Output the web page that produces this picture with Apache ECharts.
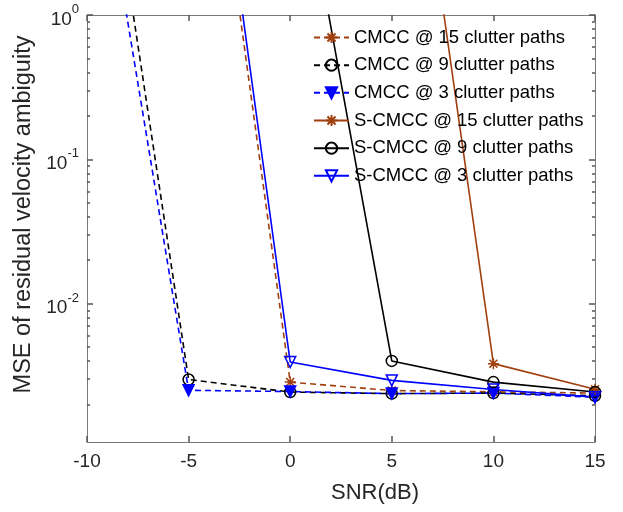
<!DOCTYPE html>
<html>
<head>
<meta charset="utf-8">
<script src="https://cdn.jsdelivr.net/npm/echarts@6/dist/echarts.min.js"></script>
<style>html,body{margin:0;padding:0;background:#fff;}#chart{width:623px;height:512px;}</style>
</head>
<body>
<div id="chart"></div>
<script>
// ---- data ----
const snr = [-10, -5, 0, 5, 10, 15];
const cmcc15  = [800, 400, 0.00286, 0.0025, 0.00245, 0.0024];
const cmcc9   = [131, 0.00298, 0.00244, 0.00238, 0.0024, 0.0023];
const cmcc3   = [46, 0.00251, 0.00246, 0.00238, 0.0024, 0.00225];
const scmcc15 = [5000, 2000, 900, 355, 0.00384, 0.00255];
const scmcc9  = [2000, 500, 29, 0.00401, 0.00286, 0.00244];
const scmcc3  = [3000, 560, 0.00394, 0.00294, 0.00254, 0.00225];
const seriesNames = ['CMCC @ 15 clutter paths', 'CMCC @ 9 clutter paths', 'CMCC @ 3 clutter paths',
                     'S-CMCC @ 15 clutter paths', 'S-CMCC @ 9 clutter paths', 'S-CMCC @ 3 clutter paths'];
const yMajorTicks = [0.01, 0.1, 1];
const yMinorTicks = [0.002,0.003,0.004,0.005,0.006,0.007,0.008,0.009,
                     0.02,0.03,0.04,0.05,0.06,0.07,0.08,0.09,
                     0.2,0.3,0.4,0.5,0.6,0.7,0.8,0.9];
const xLabel = 'SNR(dB)';
const yLabel = 'MSE of residual velocity ambiguity';

// ---- styling ----
const FONT = 'Liberation Sans, Arial, Helvetica, sans-serif';
const BROWN = '#A23F0E', BLACK = '#000000', BLUE = '#0000FF';
const AXIS = '#7a7a7a', TICK = '#555555', TXT = '#262626';
const YMIN = 0.0011, YMAX = 1;
const asterisk = 'path://M0,-5L0,5M-5,0L5,0M-3.6,-3.6L3.6,3.6M-3.6,3.6L3.6,-3.6';
const clear = 'rgba(255,255,255,0)';

function pairs(arr) { return snr.map((x, i) => [x, arr[i]]); }

function mk(name, arr, color, dashed, symbol, filled, rotate) {
  return {
    name: name, type: 'line', data: pairs(arr),
    xAxisIndex: 0, yAxisIndex: 0,
    symbol: symbol, symbolSize: 11, symbolRotate: rotate || 0,
    symbolKeepAspect: true,
    lineStyle: { color: color, width: 1.6, type: dashed ? [6, 4] : 'solid' },
    itemStyle: { color: filled ? color : clear, borderColor: color, borderWidth: 1.5 },
    clip: true, z: 2
  };
}

const series = [
  mk(seriesNames[0], cmcc15, BROWN, true, asterisk, true),
  mk(seriesNames[1], cmcc9, BLACK, true, 'circle', false),
  mk(seriesNames[2], cmcc3, BLUE, true, 'triangle', true, 180),
  mk(seriesNames[3], scmcc15, BROWN, false, asterisk, true),
  mk(seriesNames[4], scmcc9, BLACK, false, 'circle', false),
  mk(seriesNames[5], scmcc3, BLUE, false, 'triangle', false, 180)
];

function yAx(pos, ticks, len, showLine, showLabel) {
  return {
    type: 'log', logBase: 10, min: YMIN, max: YMAX, position: pos,
    axisLine: { show: showLine, onZero: false, lineStyle: { color: AXIS, width: 1 } },
    axisTick: { show: true, inside: true, length: len, customValues: ticks, lineStyle: { color: TICK, width: 1.5 } },
    axisLabel: showLabel ? {
      show: true, customValues: yMajorTicks, margin: 8,
      formatter: function (v) {
        const e = Math.round(Math.log10(v));
        return '{b|10}{s|' + e + '}';
      },
      rich: {
        b: { fontSize: 19, fontFamily: FONT, color: TXT, padding: [9, 0, 0, 0] },
        s: { fontSize: 13, fontFamily: FONT, color: TXT, padding: [0, 0, 11, 0] }
      }
    } : { show: false },
    splitLine: { show: false }, minorTick: { show: false }
  };
}

const option = {
  animation: false,
  backgroundColor: '#ffffff',
  grid: { left: 87, right: 28, top: 15, bottom: 70, containLabel: false, outerBoundsMode: 'none' },
  legend: {
    orient: 'vertical', left: 313, top: 28, padding: 0,
    itemWidth: 35, itemHeight: 14, itemGap: 8.67,
    data: seriesNames,
    textStyle: { fontSize: 18.5, lineHeight: 18, fontFamily: FONT, color: '#000' }
  },
  xAxis: [
    {
      type: 'value', min: -10, max: 15, interval: 5, position: 'bottom',
      name: xLabel, nameLocation: 'middle', nameGap: 40,
      nameTextStyle: { fontSize: 22, fontFamily: FONT, color: TXT, padding: [0, 0, 0, 68] },
      axisLine: { show: true, onZero: false, lineStyle: { color: AXIS, width: 1 } },
      axisTick: { show: true, inside: true, length: 6, lineStyle: { color: TICK, width: 1.5 } },
      axisLabel: { fontSize: 19, fontFamily: FONT, color: TXT, margin: 10 },
      splitLine: { show: false }
    },
    {
      type: 'value', min: -10, max: 15, interval: 5, position: 'top',
      axisLine: { show: true, onZero: false, lineStyle: { color: AXIS, width: 1 } },
      axisTick: { show: true, inside: true, length: 6, lineStyle: { color: TICK, width: 1.5 } },
      axisLabel: { show: false }, splitLine: { show: false }
    }
  ],
  yAxis: [
    Object.assign(yAx('left', yMajorTicks, 6, true, true), {
      name: yLabel, nameLocation: 'middle', nameGap: 50, nameRotate: 90,
      nameTextStyle: { fontSize: 23.5, fontFamily: FONT, color: TXT, padding: [0, 0, 0, 28] }
    }),
    yAx('left', yMinorTicks, 3, false, false),
    yAx('right', yMajorTicks, 6, true, false),
    yAx('right', yMinorTicks, 3, false, false)
  ],
  series: series
};

const chart = echarts.init(document.getElementById('chart'), null, { renderer: 'canvas' });
chart.setOption(option);
</script>
</body>
</html>
